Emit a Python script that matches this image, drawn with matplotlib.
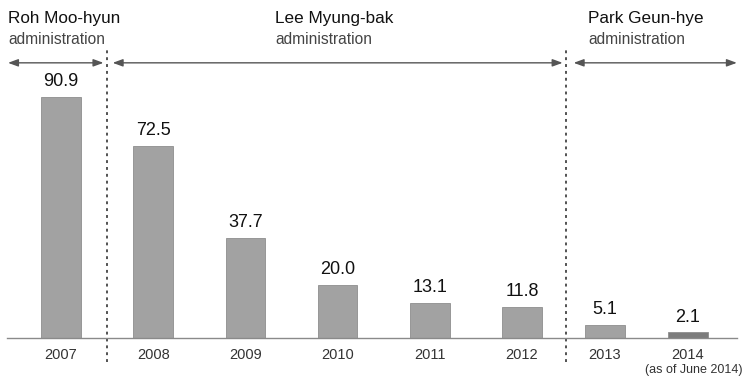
import matplotlib
matplotlib.use('Agg')
import matplotlib.pyplot as plt
import numpy as np

# datos del grafico
years = ['2007', '2008', '2009', '2010', '2011', '2012', '2013', '2014']
values = [90.9, 72.5, 37.7, 20.0, 13.1, 11.8, 5.1, 2.1]
value_labels = ['90.9', '72.5', '37.7', '20.0', '13.1', '11.8', '5.1', '2.1']
groups = ['Roh Moo-hyun', 'Lee Myung-bak', 'Park Geun-hye']
note_2014 = '(as of June 2014)'

plt.rcParams['font.family'] = ['Liberation Sans', 'DejaVu Sans']

fig = plt.figure(figsize=(7.47, 3.77), dpi=100)
ax = fig.add_axes([0, 0, 1, 1])
ax.axis('off')

# posiciones: el ultimo grupo va un poco mas junto
x = np.r_[np.arange(6), 5 + 0.9 * np.arange(1, 3)].astype(float)
colores = ['#a2a2a2'] * 7 + ['#7c7c7c']

ax.bar(x, values, width=0.43, color=colores, edgecolor='#8e8e8e', linewidth=0.6, zorder=2)

for xi, v, lab in zip(x, values, value_labels):
    ax.annotate(lab, (xi, v), xytext=(0, 5), textcoords='offset points',
                ha='center', va='bottom', fontsize=13, color='#111111')

for xi, yr in zip(x, years):
    ax.annotate(yr, (xi, 0), xytext=(0, -7), textcoords='offset points',
                ha='center', va='top', fontsize=10.5, color='#333333')
ax.annotate(note_2014, (x[-1], 0), xytext=(4, -19), textcoords='offset points',
            ha='center', va='top', fontsize=9, color='#333333')

ax.set_xlim(-0.662, 7.44)
ax.set_ylim(-14.7, 127.5)

# linea base
ax.plot([-0.585, 7.33], [0, 0], color='#8a8a8a', lw=1.0, zorder=3)

# separadores punteados
divs = [(x[0] + x[1]) / 2, 5.48]
for d in divs:
    ax.plot([d, d], [-9, 108.7], color='#444444', lw=1.3,
            linestyle=(0, (1.6, 2.2)), zorder=1)

# flechas de periodo
y_arr = 103.8
tramos = [(-0.575, divs[0] - 0.04), (divs[0] + 0.06, divs[1] - 0.04), (divs[1] + 0.08, 7.33)]
for a, b in tramos:
    ax.annotate('', xy=(b, y_arr), xytext=(a, y_arr),
                arrowprops=dict(arrowstyle='<|-|>,head_length=0.6,head_width=0.22',
                                color='#555555', lw=1.0, shrinkA=0, shrinkB=0))

# titulos de cada administracion
pos_x = [8, 275, 588]
for px, g in zip(pos_x, groups):
    fig.text(px / 747, 1 - 19 / 377, g, fontsize=12.3, color='#111111',
             ha='left', va='center')
    fig.text(px / 747, 1 - 40 / 377, 'administration', fontsize=11.2, color='#444444',
             ha='left', va='center')

fig.savefig('out.png', dpi=100)
